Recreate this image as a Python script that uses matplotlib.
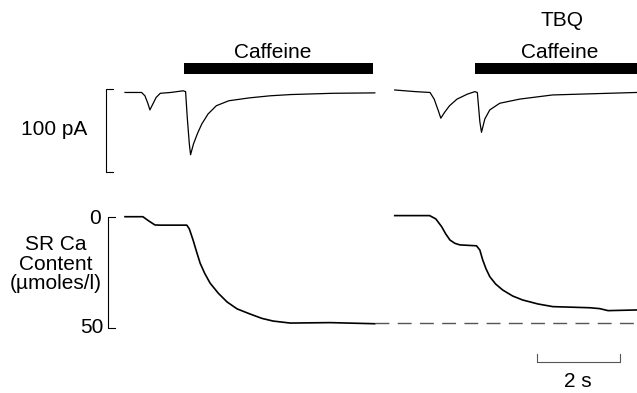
import matplotlib.pyplot as plt

plt.rcParams['font.family'] = ['Liberation Sans', 'DejaVu Sans']

# desplazamiento temporal del segundo registro (s)
t_offset = 6.5

# corriente, control (s, pA)
t_i_ctrl = [0, 0.40, 0.48, 0.55, 0.60, 0.66, 0.75, 0.85, 1.10, 1.40, 1.46,
            1.50, 1.55, 1.58, 1.65, 1.75, 1.85, 2.0, 2.2, 2.5, 3.0, 3.5,
            4.0, 5.0, 6.02]
i_ctrl = [0, 0, -4, -13, -21, -15, -6, -1, 0, 2, 1,
          -30, -62, -75, -62, -49, -38, -26, -16, -10, -6.5, -4,
          -2.5, -1, -0.5]

# corriente, TBQ
t_i_tbq = [0, 0.5, 0.85, 0.95, 1.05, 1.11, 1.20, 1.32, 1.50, 1.75, 1.93,
           1.99, 2.05, 2.09, 2.17, 2.29, 2.53, 3.01, 3.8, 4.8, 5.83]
i_tbq = [3, 1, 0, -8, -22, -31, -24, -16, -8, -2, 1,
         0, -35, -48, -32, -21, -13, -8, -3, -1.5, 0]

# contenido de Ca del RS, control (s, umol/l)
t_ca_ctrl = [0, 0.43, 0.58, 0.72, 0.84, 1.49, 1.55, 1.64, 1.72, 1.81, 1.92,
             2.05, 2.25, 2.46, 2.7, 3.01, 3.3, 3.57, 3.98, 4.94, 6.02]
ca_ctrl = [0, 0, 2, 3.7, 3.8, 3.8, 5.5, 10.5, 15.5, 20.9, 25.5,
           29.9, 34.5, 38.4, 41.5, 43.8, 45.8, 47.0, 47.9, 47.7, 48.2]

# contenido de Ca del RS, TBQ
t_ca_tbq = [0, 0.84, 0.99, 1.13, 1.23, 1.33, 1.45, 1.57, 1.97, 2.05, 2.12,
            2.20, 2.29, 2.43, 2.60, 2.84, 3.08, 3.45, 3.81, 4.70, 4.94,
            5.14, 5.83]
ca_tbq = [-0.5, -0.5, 1, 4.5, 7.8, 10.5, 12, 12.7, 13.1, 15, 19.5,
          23.5, 27, 30.3, 33, 35.7, 37.5, 39.3, 40.5, 41, 41.4,
          42.3, 42]

# periodos de cafeina (s)
caf_ctrl = (1.42, 5.97)
caf_tbq = (1.93, 6.0)
ca_ref = 48.0

fig = plt.figure(figsize=(6.37, 3.93), dpi=100)
ax1 = fig.add_axes([0, 1 - 190 / 393, 1, 190 / 393])
ax2 = fig.add_axes([0, 0, 1, 203 / 393])
xlim = (-125 / 41.5, 512 / 41.5)

# panel superior: corriente
ax1.plot(t_i_ctrl, i_ctrl, color='black', lw=0.9)
ax1.plot([t + t_offset for t in t_i_tbq], i_tbq, color='black', lw=0.9)
ax1.fill_between(caf_ctrl, 22.3, 35.2, color='black', lw=0)
ax1.fill_between([caf_tbq[0] + t_offset, caf_tbq[1] + t_offset + 1], 22.3, 35.2,
                 color='black', lw=0)
ax1.text(3.56, 47.6, 'Caffeine', fontsize=15, ha='center', va='center')
ax1.text(10.48, 47.6, 'Caffeine', fontsize=15, ha='center', va='center')
ax1.text(10.53, 87.3, 'TBQ', fontsize=15, ha='center', va='center')

# barra de escala 100 pA
ax1.plot([-0.29, -0.46, -0.46, -0.29], [4, 4, -96, -96], color='black', lw=0.8)
ax1.text(-1.7, -45, '100 pA', fontsize=15, ha='center', va='center')
ax1.set_xlim(xlim)
ax1.set_ylim(-117.5, 111.4)
ax1.axis('off')

# panel inferior: contenido de Ca
ax2.plot(t_ca_ctrl, ca_ctrl, color='black', lw=1.2)
ax2.plot([t + t_offset for t in t_ca_tbq], ca_tbq, color='black', lw=1.2)
ax2.plot([t_ca_ctrl[-1], xlim[1]], [ca_ref, ca_ref], color='#555555', lw=1.0,
         dashes=(10, 6))

ax2.plot([-0.24, -0.42, -0.42, -0.24], [0, 0, 50, 50], color='black', lw=0.8)
ax2.text(-0.58, 0.8, '0', fontsize=15, ha='right', va='center')
ax2.text(-0.52, 50, '50', fontsize=15, ha='right', va='center')
ax2.text(-1.66, 21.5, 'SR Ca\nContent\n(µmoles/l)', fontsize=15, ha='center',
         va='center', linespacing=1.03)

# barra de escala 2 s
ax2.plot([9.92, 9.92, 11.92, 11.92], [61.8, 65.6, 65.6, 61.8], color='#555555',
         lw=0.8)
ax2.text(10.92, 74.3, '2 s', fontsize=15, ha='center', va='center')
ax2.set_xlim(xlim)
ax2.set_ylim(79.4, -12.03)
ax2.axis('off')

fig.savefig('out.png', dpi=100)
